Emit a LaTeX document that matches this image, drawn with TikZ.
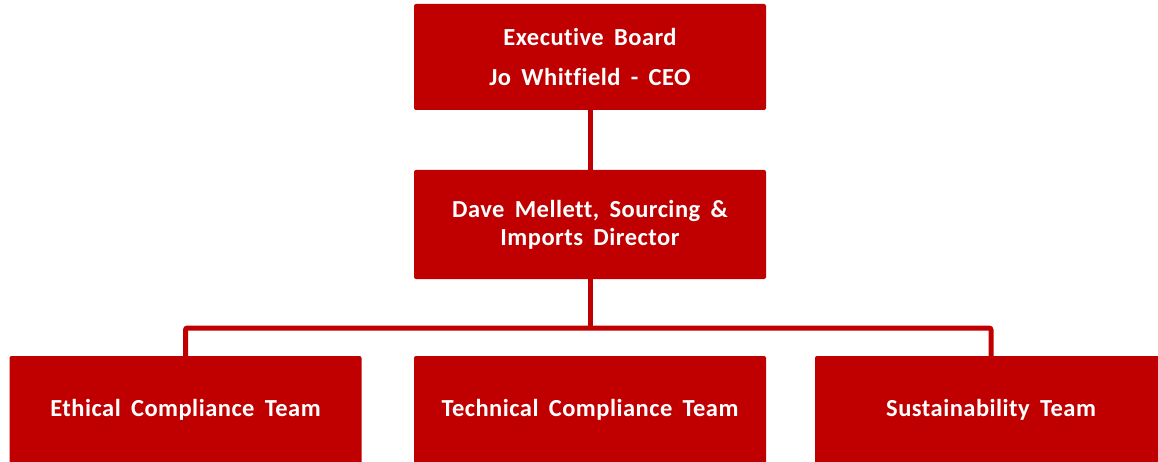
\documentclass[tikz,border=0pt]{standalone}
\usepackage{fontspec}
\setmainfont{Carlito}
\newfontfamily\boxfont[Ligatures=NoCommon, LetterSpace=2, BoldFont=Carlito Bold]{Carlito}
\newcommand\boxsetup{\boxfont\fontsize{24.5}{28}\selectfont\bfseries\spaceskip=0.42em\relax}
\usetikzlibrary{positioning}
\definecolor{boxred}{HTML}{C00000}
\tikzset{box/.style={fill=boxred, rounded corners=2pt, text=white, font=\boxsetup, minimum width=352pt, minimum height=106pt, align=center, inner sep=0pt}}
\tikzset{link/.style={draw=boxred, line width=5pt, rounded corners=2pt}}

\begin{document}
\begin{tikzpicture}[x=1pt,y=-1pt]
\clip (0,0) rectangle (1158,462);
\node (ceo) [box] at (590,57) {Executive Board\\[12pt]Jo Whitfield - CEO};
\node (dir) [box, minimum height=109pt] at (590,224.5) {Dave Mellett, Sourcing \&\\Imports Director};
\node (eth) [box, minimum height=108pt] at (185.5,410) {Ethical Compliance Team};
\node (tech) [box, minimum height=108pt] at (590,410) {Technical Compliance Team};
\node (sus) [box, minimum height=108pt] at (991,410) {Sustainability Team};
\coordinate (bar) at (590,328);

\draw[link] (ceo) -- (dir);
\draw[link] (dir) -- (bar);
\draw[link] (eth) |- (bar) -| (sus);
\end{tikzpicture}
\end{document}
